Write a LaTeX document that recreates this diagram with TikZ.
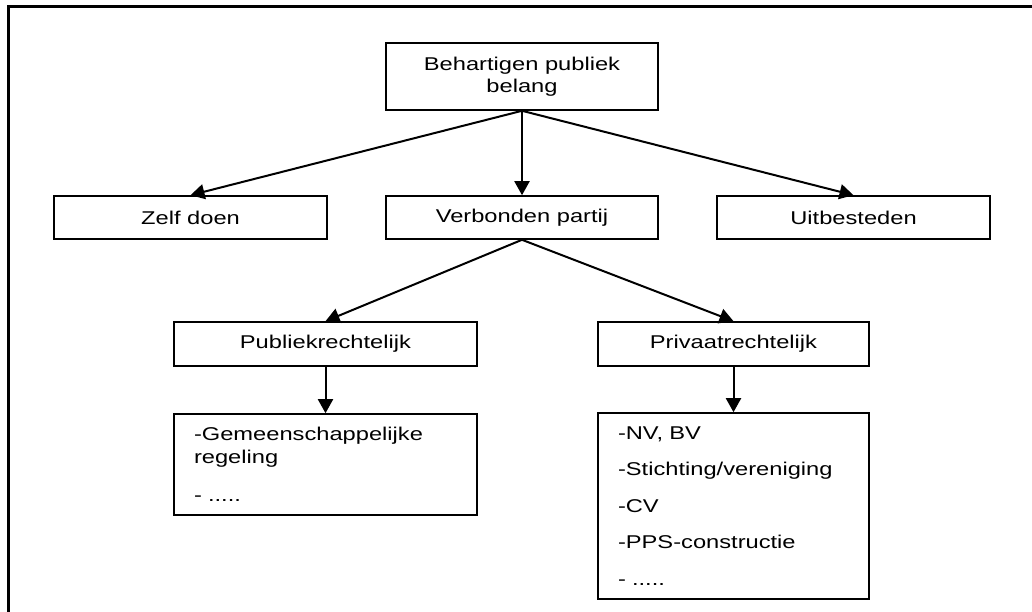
\documentclass[tikz,border=0pt]{standalone}
\usepackage{fontspec}
\setmainfont{Liberation Sans}[FakeStretch=1.28]
\usetikzlibrary{arrows.meta}

\begin{document}
\begin{tikzpicture}[x=1pt, y=-1pt,
  box/.style={draw, line width=1.6pt, inner sep=0pt,
    font=\fontsize{18.5}{22.5}\selectfont},
  listbox/.style={box, align=left, inner xsep=20pt, text width=#1},
  link/.style={line width=2pt, -{Triangle[length=14pt,width=15pt]}}]

\useasboundingbox (0,0) rectangle (1032,612);

% Draw the open frame round the chart
\draw[line width=3pt] (1032,7) -- (8,7) -- (8,612);

% Draw the top box
\node[box, align=center, minimum width=272pt, minimum height=67pt] (belang) at (522,76.5) {Behartigen publiek\\belang};

% Draw the three choices
\node[box, minimum width=273pt, minimum height=43pt] (zelf) at (190.5,217.5) {Zelf doen};
\node[box, minimum width=272pt, minimum height=43pt] (partij) at (522,217.5) {Verbonden partij};
\node[box, minimum width=273pt, minimum height=43pt] (uitbesteden) at (853.5,217.5) {Uitbesteden};

% Draw the two kinds of verbonden partij
\node[box, minimum width=303pt, minimum height=44pt] (publiek) at (325.5,344) {Publiekrechtelijk};
\node[box, minimum width=271pt, minimum height=44pt] (privaat) at (733.5,344) {Privaatrechtelijk};

% Draw the lists below them
\node[listbox=263pt, minimum height=101pt] (regeling) at (325.5,464.5) {-Gemeenschappelijke\\regeling\\[16pt]- .....};
\node[listbox=231pt, minimum height=186pt] (vormen) at (733.5,506) {-NV, BV\\[14pt]-Stichting/vereniging\\[14pt]-CV\\[14pt]-PPS-constructie\\[14pt]- .....};

% Draw the arrows
\draw[link] (belang.south) -- (zelf.north);
\draw[link] (belang.south) -- (partij.north);
\draw[link] (belang.south) -- (uitbesteden.north);
\draw[link] (partij.south) -- (publiek.north);
\draw[link] (partij.south) -- (privaat.north);
\draw[link] (publiek.south) -- (regeling.north);
\draw[link] (privaat.south) -- (vormen.north);

\end{tikzpicture}
\end{document}
